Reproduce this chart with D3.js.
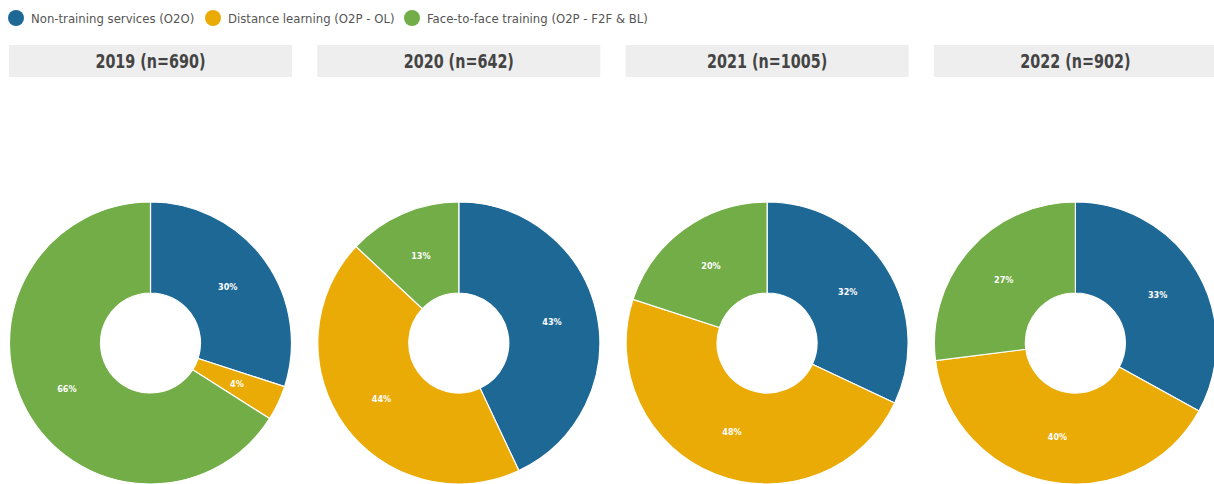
<!DOCTYPE html>
<html><head><meta charset="utf-8">
<script src="https://cdn.jsdelivr.net/npm/d3@7"></script>
<style>
html,body{margin:0;padding:0;background:#fff;overflow:hidden}
svg{display:block}
</style></head>
<body>
<svg id="chart" width="1214" height="484"></svg>
<script>
const categories = ["Non-training services (O2O)", "Distance learning (O2P - OL)", "Face-to-face training (O2P - F2F & BL)"];
const colors = ["#1e6896", "#ebab07", "#72ad47"];
const years = ["2019 (n=690)", "2020 (n=642)", "2021 (n=1005)", "2022 (n=902)"];
const values2019 = [30, 4, 66];
const values2020 = [43, 44, 13];
const values2021 = [32, 48, 20];
const values2022 = [33, 40, 27];
const series = [values2019, values2020, values2021, values2022];

const svg = d3.select("#chart");
const font = "'DejaVu Sans Condensed', 'Roboto', sans-serif";

// legend
const legendX = [16, 213, 412];
const lg = svg.append("g");
categories.forEach((c, i) => {
  const g = lg.append("g").attr("transform", `translate(${legendX[i]},18)`);
  g.append("circle").attr("r", 8).attr("fill", colors[i]);
  g.append("text").attr("x", 15).attr("y", 4.5).attr("fill", "#555")
    .style("font-family", font).style("font-size", "13px").text(c);
});

const x = d3.scaleBand().domain(years).range([-3.65, 1229.55]).paddingInner(0.082).paddingOuter(0.041);
const pie = d3.pie().sort(null).value(d => d);
const R = 141, r = 50;
const arc = d3.arc().innerRadius(r).outerRadius(R);
const color = d3.scaleOrdinal().domain(d3.range(3)).range(colors);

years.forEach((y, i) => {
  const g = svg.append("g").attr("transform", `translate(${x(y)},0)`);
  g.append("rect").attr("x", 0).attr("y", 45).attr("width", x.bandwidth()).attr("height", 32).attr("fill", "#eeeeee");
  g.append("text").attr("transform", `translate(${x.bandwidth() / 2},68) scale(0.84,1)`).attr("text-anchor", "middle")
    .attr("fill", "#444").style("font-family", font).style("font-weight", "bold").style("font-size", "19px").text(y);
  const d = g.append("g").attr("transform", `translate(${x.bandwidth() / 2},343)`);
  const arcs = pie(series[i]);
  d.selectAll("path").data(arcs).join("path")
    .attr("d", arc).attr("fill", (a, k) => color(k)).attr("stroke", "#fff").attr("stroke-width", 1.2);
  d.selectAll("text").data(arcs).join("text")
    .attr("transform", a => `translate(${arc.centroid(a)})`)
    .attr("text-anchor", "middle").attr("dy", "0.35em")
    .attr("fill", "#fff").style("font-family", font).style("font-weight", "bold").style("font-size", "9px")
    .text(a => a.data + "%");
});
</script>
</body></html>
